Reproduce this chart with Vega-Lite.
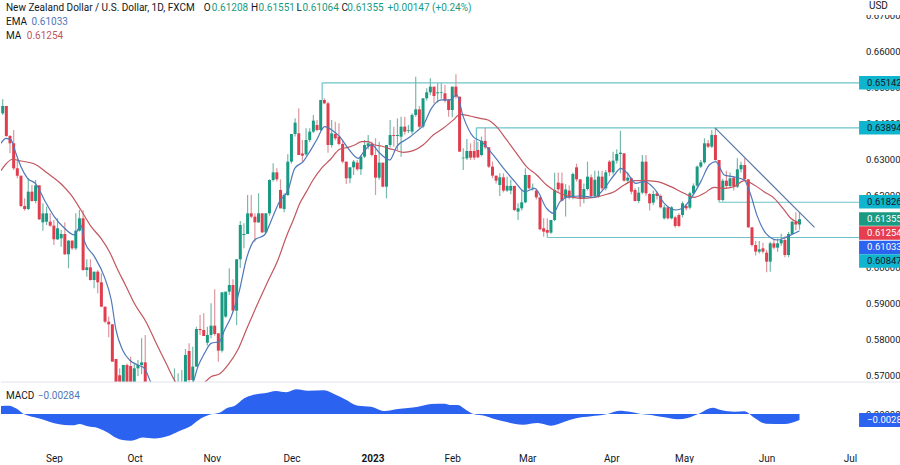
{
"$schema":"https://vega.github.io/schema/vega-lite/v6.json",
"background":"white",
"padding":0,
"spacing":0,
"bounds":"flush",
"datasets":{
"blank":[{}],
"candles":[
{"bar":0,"o":0.64296,"h":0.64685,"l":0.6425,"c":0.645},
{"bar":1,"o":0.645,"h":0.645,"l":0.63648,"c":0.63667},
{"bar":2,"o":0.63667,"h":0.63695,"l":0.63185,"c":0.63463},
{"bar":3,"o":0.63463,"h":0.63833,"l":0.62722,"c":0.62768},
{"bar":4,"o":0.62768,"h":0.63,"l":0.62491,"c":0.62565},
{"bar":5,"o":0.62565,"h":0.62565,"l":0.61685,"c":0.61722},
{"bar":6,"o":0.61722,"h":0.61935,"l":0.61592,"c":0.61639},
{"bar":7,"o":0.61639,"h":0.62491,"l":0.61611,"c":0.6212},
{"bar":8,"o":0.6212,"h":0.62305,"l":0.61842,"c":0.61861},
{"bar":9,"o":0.61861,"h":0.62444,"l":0.61796,"c":0.62296},
{"bar":10,"o":0.62296,"h":0.62296,"l":0.61333,"c":0.61352},
{"bar":11,"o":0.61268,"h":0.61796,"l":0.61037,"c":0.61518},
{"bar":12,"o":0.61287,"h":0.61704,"l":0.61194,"c":0.61518},
{"bar":13,"o":0.61287,"h":0.61518,"l":0.61148,"c":0.61176},
{"bar":14,"o":0.61176,"h":0.61333,"l":0.60639,"c":0.60796},
{"bar":15,"o":0.60796,"h":0.6138,"l":0.60778,"c":0.61102},
{"bar":16,"o":0.60824,"h":0.61055,"l":0.60593,"c":0.60944},
{"bar":17,"o":0.60944,"h":0.61268,"l":0.60361,"c":0.6038},
{"bar":18,"o":0.6038,"h":0.60778,"l":0.59991,"c":0.60759},
{"bar":19,"o":0.60759,"h":0.60778,"l":0.605,"c":0.60546},
{"bar":20,"o":0.60546,"h":0.61518,"l":0.605,"c":0.61037},
{"bar":21,"o":0.61037,"h":0.61611,"l":0.6101,"c":0.6138},
{"bar":22,"o":0.6138,"h":0.61611,"l":0.59926,"c":0.59944},
{"bar":23,"o":0.59944,"h":0.60241,"l":0.59759,"c":0.60018},
{"bar":24,"o":0.60018,"h":0.60241,"l":0.59648,"c":0.59666},
{"bar":25,"o":0.59666,"h":0.59898,"l":0.59435,"c":0.59898},
{"bar":26,"o":0.59898,"h":0.59944,"l":0.59296,"c":0.59602},
{"bar":27,"o":0.59602,"h":0.59852,"l":0.58907,"c":0.58926},
{"bar":28,"o":0.58926,"h":0.58926,"l":0.58463,"c":0.58509},
{"bar":29,"o":0.58509,"h":0.5865,"l":0.58074,"c":0.58435},
{"bar":30,"o":0.58435,"h":0.58435,"l":0.57398,"c":0.57398},
{"bar":31,"o":0.57472,"h":0.57472,"l":0.563,"c":0.565},
{"bar":32,"o":0.5702,"h":0.57213,"l":0.562,"c":0.564},
{"bar":33,"o":0.565,"h":0.57305,"l":0.563,"c":0.57305},
{"bar":34,"o":0.57305,"h":0.5735,"l":0.564,"c":0.5655},
{"bar":35,"o":0.57277,"h":0.57537,"l":0.565,"c":0.5679},
{"bar":36,"o":0.5679,"h":0.5735,"l":0.565,"c":0.57213},
{"bar":37,"o":0.57213,"h":0.57444,"l":0.57,"c":0.57305},
{"bar":38,"o":0.57305,"h":0.5805,"l":0.5705,"c":0.57379},
{"bar":39,"o":0.57379,"h":0.58142,"l":0.563,"c":0.565},
{"bar":47,"o":0.56,"h":0.57213,"l":0.557,"c":0.564},
{"bar":48,"o":0.562,"h":0.57074,"l":0.56,"c":0.566},
{"bar":49,"o":0.564,"h":0.57167,"l":0.562,"c":0.567},
{"bar":50,"o":0.5655,"h":0.5775,"l":0.563,"c":0.57583},
{"bar":51,"o":0.57694,"h":0.57907,"l":0.5665,"c":0.56888},
{"bar":52,"o":0.56888,"h":0.57815,"l":0.5665,"c":0.5726},
{"bar":53,"o":0.5726,"h":0.5837,"l":0.5726,"c":0.58305},
{"bar":54,"o":0.58305,"h":0.58694,"l":0.5814,"c":0.58275},
{"bar":55,"o":0.58278,"h":0.5874,"l":0.5811,"c":0.58111},
{"bar":56,"o":0.57925,"h":0.5837,"l":0.5785,"c":0.5814},
{"bar":57,"o":0.5814,"h":0.59018,"l":0.5805,"c":0.58398},
{"bar":58,"o":0.58398,"h":0.59407,"l":0.5812,"c":0.58167},
{"bar":59,"o":0.58185,"h":0.58185,"l":0.57398,"c":0.57704},
{"bar":60,"o":0.57704,"h":0.59324,"l":0.5765,"c":0.59324},
{"bar":61,"o":0.5865,"h":0.59342,"l":0.5862,"c":0.59342},
{"bar":62,"o":0.59342,"h":0.59991,"l":0.5925,"c":0.59528},
{"bar":63,"o":0.59528,"h":0.59685,"l":0.588,"c":0.58814},
{"bar":64,"o":0.58814,"h":0.60241,"l":0.58416,"c":0.60241},
{"bar":65,"o":0.60241,"h":0.61305,"l":0.6,"c":0.61194},
{"bar":66,"o":0.60916,"h":0.6124,"l":0.60546,"c":0.60944},
{"bar":67,"o":0.60944,"h":0.62028,"l":0.6094,"c":0.61518},
{"bar":68,"o":0.61518,"h":0.62028,"l":0.6138,"c":0.61426},
{"bar":69,"o":0.61426,"h":0.61518,"l":0.60731,"c":0.61268},
{"bar":70,"o":0.61268,"h":0.62074,"l":0.6125,"c":0.61518},
{"bar":71,"o":0.61518,"h":0.61518,"l":0.6097,"c":0.6099},
{"bar":72,"o":0.6099,"h":0.61518,"l":0.6095,"c":0.61518},
{"bar":73,"o":0.61518,"h":0.62463,"l":0.6145,"c":0.62444},
{"bar":74,"o":0.62444,"h":0.62907,"l":0.624,"c":0.62657},
{"bar":75,"o":0.62657,"h":0.62768,"l":0.624,"c":0.62463},
{"bar":76,"o":0.62167,"h":0.62463,"l":0.61657,"c":0.61657},
{"bar":77,"o":0.61639,"h":0.62074,"l":0.6155,"c":0.62028},
{"bar":78,"o":0.62028,"h":0.63157,"l":0.62,"c":0.62954},
{"bar":79,"o":0.62954,"h":0.63722,"l":0.629,"c":0.63722},
{"bar":80,"o":0.63722,"h":0.64157,"l":0.6365,"c":0.64037},
{"bar":81,"o":0.63741,"h":0.64435,"l":0.63139,"c":0.63139},
{"bar":82,"o":0.6318,"h":0.63556,"l":0.6295,"c":0.6312},
{"bar":83,"o":0.63157,"h":0.63879,"l":0.6312,"c":0.63556},
{"bar":84,"o":0.63556,"h":0.63879,"l":0.635,"c":0.63787},
{"bar":85,"o":0.63787,"h":0.6425,"l":0.6375,"c":0.64093},
{"bar":86,"o":0.63972,"h":0.64111,"l":0.638,"c":0.63833},
{"bar":87,"o":0.63833,"h":0.64667,"l":0.6381,"c":0.64667},
{"bar":88,"o":0.64667,"h":0.64713,"l":0.6455,"c":0.64574},
{"bar":89,"o":0.64574,"h":0.6462,"l":0.63204,"c":0.63417},
{"bar":90,"o":0.63417,"h":0.64111,"l":0.6335,"c":0.63741},
{"bar":91,"o":0.63722,"h":0.64065,"l":0.6355,"c":0.63602},
{"bar":92,"o":0.63648,"h":0.64019,"l":0.634,"c":0.63445},
{"bar":93,"o":0.63445,"h":0.63556,"l":0.62907,"c":0.62954},
{"bar":94,"o":0.62954,"h":0.62954,"l":0.62333,"c":0.62491},
{"bar":95,"o":0.62491,"h":0.62796,"l":0.62352,"c":0.62796},
{"bar":96,"o":0.62796,"h":0.63,"l":0.62583,"c":0.62954},
{"bar":97,"o":0.62926,"h":0.63,"l":0.627,"c":0.62741},
{"bar":98,"o":0.62741,"h":0.6314,"l":0.62583,"c":0.63093},
{"bar":99,"o":0.63093,"h":0.63556,"l":0.6305,"c":0.63417},
{"bar":100,"o":0.63389,"h":0.63695,"l":0.633,"c":0.63463},
{"bar":101,"o":0.63445,"h":0.63509,"l":0.631,"c":0.63139},
{"bar":102,"o":0.63139,"h":0.63602,"l":0.62028,"c":0.62509},
{"bar":103,"o":0.62509,"h":0.63509,"l":0.6245,"c":0.62926},
{"bar":104,"o":0.62926,"h":0.62926,"l":0.6224,"c":0.62259},
{"bar":105,"o":0.62259,"h":0.63417,"l":0.61935,"c":0.63417},
{"bar":106,"o":0.63417,"h":0.64111,"l":0.6335,"c":0.63694},
{"bar":107,"o":0.63694,"h":0.63926,"l":0.6337,"c":0.63667},
{"bar":108,"o":0.63667,"h":0.64157,"l":0.63278,"c":0.63694},
{"bar":109,"o":0.63648,"h":0.64204,"l":0.63093,"c":0.63926},
{"bar":110,"o":0.63926,"h":0.64204,"l":0.637,"c":0.63787},
{"bar":111,"o":0.63806,"h":0.63972,"l":0.6375,"c":0.63825},
{"bar":112,"o":0.63787,"h":0.643,"l":0.6372,"c":0.6425},
{"bar":113,"o":0.6425,"h":0.65315,"l":0.642,"c":0.64407},
{"bar":114,"o":0.64407,"h":0.645,"l":0.6388,"c":0.63926},
{"bar":115,"o":0.63926,"h":0.64713,"l":0.6388,"c":0.64713},
{"bar":116,"o":0.64713,"h":0.64991,"l":0.6465,"c":0.6488},
{"bar":117,"o":0.6488,"h":0.65269,"l":0.648,"c":0.65037},
{"bar":118,"o":0.65037,"h":0.65037,"l":0.64574,"c":0.64778},
{"bar":119,"o":0.64852,"h":0.6513,"l":0.646,"c":0.6488},
{"bar":120,"o":0.6487,"h":0.6513,"l":0.647,"c":0.64889},
{"bar":121,"o":0.64852,"h":0.65083,"l":0.646,"c":0.64648},
{"bar":122,"o":0.64667,"h":0.647,"l":0.64204,"c":0.64389},
{"bar":123,"o":0.64389,"h":0.65037,"l":0.64185,"c":0.65037},
{"bar":124,"o":0.65037,"h":0.6538,"l":0.647,"c":0.64759},
{"bar":125,"o":0.64759,"h":0.64759,"l":0.63231,"c":0.63231},
{"bar":126,"o":0.63046,"h":0.63324,"l":0.62722,"c":0.63065},
{"bar":127,"o":0.63046,"h":0.63583,"l":0.63,"c":0.6325},
{"bar":128,"o":0.6325,"h":0.63463,"l":0.63,"c":0.63065},
{"bar":129,"o":0.6325,"h":0.63556,"l":0.63,"c":0.63065},
{"bar":130,"o":0.63278,"h":0.635,"l":0.6305,"c":0.63074},
{"bar":131,"o":0.63139,"h":0.6365,"l":0.631,"c":0.6353},
{"bar":132,"o":0.6353,"h":0.63898,"l":0.633,"c":0.63352},
{"bar":133,"o":0.63352,"h":0.63352,"l":0.6278,"c":0.62815},
{"bar":134,"o":0.62815,"h":0.62954,"l":0.625,"c":0.62565},
{"bar":135,"o":0.62565,"h":0.62565,"l":0.6235,"c":0.62426},
{"bar":136,"o":0.62305,"h":0.6263,"l":0.62,"c":0.62518},
{"bar":137,"o":0.62518,"h":0.6263,"l":0.621,"c":0.6215},
{"bar":138,"o":0.6215,"h":0.62537,"l":0.6212,"c":0.6228},
{"bar":139,"o":0.6215,"h":0.6245,"l":0.6205,"c":0.6228},
{"bar":140,"o":0.6228,"h":0.6228,"l":0.6158,"c":0.61611},
{"bar":141,"o":0.61565,"h":0.61796,"l":0.61333,"c":0.61658},
{"bar":142,"o":0.61658,"h":0.6217,"l":0.616,"c":0.61824},
{"bar":143,"o":0.61824,"h":0.62768,"l":0.618,"c":0.62583},
{"bar":144,"o":0.62583,"h":0.62583,"l":0.6218,"c":0.62213},
{"bar":145,"o":0.62213,"h":0.6235,"l":0.6215,"c":0.62232},
{"bar":146,"o":0.6215,"h":0.6218,"l":0.619,"c":0.61963},
{"bar":147,"o":0.61963,"h":0.61963,"l":0.6105,"c":0.61074},
{"bar":148,"o":0.61102,"h":0.6138,"l":0.6087,"c":0.61009},
{"bar":149,"o":0.61055,"h":0.6138,"l":0.6095,"c":0.60981},
{"bar":150,"o":0.60981,"h":0.61333,"l":0.6095,"c":0.61333},
{"bar":151,"o":0.61333,"h":0.62648,"l":0.613,"c":0.62167},
{"bar":152,"o":0.6237,"h":0.6265,"l":0.621,"c":0.62185},
{"bar":153,"o":0.62352,"h":0.6265,"l":0.6185,"c":0.6187},
{"bar":154,"o":0.6195,"h":0.6233,"l":0.6143,"c":0.6218},
{"bar":155,"o":0.6215,"h":0.623,"l":0.619,"c":0.6195},
{"bar":156,"o":0.61963,"h":0.6265,"l":0.619,"c":0.62611},
{"bar":157,"o":0.62796,"h":0.629,"l":0.624,"c":0.62463},
{"bar":158,"o":0.62463,"h":0.62463,"l":0.61704,"c":0.61935},
{"bar":159,"o":0.61935,"h":0.6235,"l":0.618,"c":0.62194},
{"bar":160,"o":0.62194,"h":0.62954,"l":0.6215,"c":0.62537},
{"bar":161,"o":0.62518,"h":0.626,"l":0.6195,"c":0.62},
{"bar":162,"o":0.62,"h":0.627,"l":0.6195,"c":0.6245},
{"bar":163,"o":0.6198,"h":0.627,"l":0.6195,"c":0.6254},
{"bar":164,"o":0.62537,"h":0.627,"l":0.6215,"c":0.62213},
{"bar":165,"o":0.62213,"h":0.6272,"l":0.6215,"c":0.62657},
{"bar":166,"o":0.62954,"h":0.63,"l":0.6255,"c":0.62657},
{"bar":167,"o":0.62657,"h":0.63231,"l":0.626,"c":0.62981},
{"bar":168,"o":0.62981,"h":0.633,"l":0.629,"c":0.63167},
{"bar":169,"o":0.63167,"h":0.63815,"l":0.6263,"c":0.63204},
{"bar":170,"o":0.63185,"h":0.63185,"l":0.624,"c":0.62426},
{"bar":171,"o":0.62426,"h":0.6265,"l":0.6235,"c":0.62509},
{"bar":172,"o":0.62491,"h":0.6252,"l":0.6205,"c":0.62121},
{"bar":173,"o":0.62167,"h":0.6222,"l":0.6185,"c":0.61861},
{"bar":174,"o":0.61861,"h":0.6225,"l":0.618,"c":0.62093},
{"bar":175,"o":0.62093,"h":0.63139,"l":0.6205,"c":0.62954},
{"bar":176,"o":0.62954,"h":0.63139,"l":0.62,"c":0.62074},
{"bar":177,"o":0.62056,"h":0.6208,"l":0.616,"c":0.61796},
{"bar":178,"o":0.61815,"h":0.6215,"l":0.6175,"c":0.62056},
{"bar":179,"o":0.62074,"h":0.6212,"l":0.619,"c":0.62},
{"bar":180,"o":0.62,"h":0.6205,"l":0.6165,"c":0.61685},
{"bar":181,"o":0.6138,"h":0.6175,"l":0.6135,"c":0.61685},
{"bar":182,"o":0.61685,"h":0.6172,"l":0.6135,"c":0.6138},
{"bar":183,"o":0.6138,"h":0.6172,"l":0.6135,"c":0.61685},
{"bar":184,"o":0.61407,"h":0.6145,"l":0.6112,"c":0.61167},
{"bar":185,"o":0.61472,"h":0.6152,"l":0.6113,"c":0.61167},
{"bar":186,"o":0.61472,"h":0.6185,"l":0.614,"c":0.61796},
{"bar":187,"o":0.61722,"h":0.6178,"l":0.616,"c":0.61657},
{"bar":188,"o":0.61676,"h":0.6212,"l":0.6163,"c":0.62074},
{"bar":189,"o":0.62074,"h":0.6235,"l":0.6203,"c":0.62287},
{"bar":190,"o":0.62287,"h":0.6285,"l":0.6225,"c":0.62815},
{"bar":191,"o":0.62815,"h":0.63,"l":0.6278,"c":0.62935},
{"bar":192,"o":0.62935,"h":0.63602,"l":0.629,"c":0.63463},
{"bar":193,"o":0.63463,"h":0.63556,"l":0.6333,"c":0.6337},
{"bar":194,"o":0.6337,"h":0.63833,"l":0.6333,"c":0.63695},
{"bar":195,"o":0.63695,"h":0.63894,"l":0.6298,"c":0.63},
{"bar":196,"o":0.63,"h":0.63,"l":0.6187,"c":0.61889},
{"bar":197,"o":0.61889,"h":0.6248,"l":0.6185,"c":0.62426},
{"bar":198,"o":0.62426,"h":0.627,"l":0.622,"c":0.62278},
{"bar":199,"o":0.62278,"h":0.6265,"l":0.6222,"c":0.62491},
{"bar":200,"o":0.62509,"h":0.6255,"l":0.6215,"c":0.62278},
{"bar":201,"o":0.62259,"h":0.63046,"l":0.6222,"c":0.62741},
{"bar":202,"o":0.62741,"h":0.6295,"l":0.6265,"c":0.62861},
{"bar":203,"o":0.62861,"h":0.63046,"l":0.6244,"c":0.62463},
{"bar":204,"o":0.62463,"h":0.62463,"l":0.6112,"c":0.6113},
{"bar":205,"o":0.6113,"h":0.6113,"l":0.606,"c":0.60639},
{"bar":206,"o":0.60639,"h":0.6075,"l":0.6035,"c":0.60454},
{"bar":207,"o":0.60454,"h":0.6075,"l":0.604,"c":0.60518},
{"bar":208,"o":0.60546,"h":0.607,"l":0.604,"c":0.60454},
{"bar":209,"o":0.60426,"h":0.605,"l":0.59879,"c":0.60176},
{"bar":210,"o":0.60176,"h":0.60731,"l":0.59898,"c":0.60685},
{"bar":211,"o":0.60685,"h":0.608,"l":0.6052,"c":0.60565},
{"bar":212,"o":0.60565,"h":0.6082,"l":0.6045,"c":0.60685},
{"bar":213,"o":0.60685,"h":0.6095,"l":0.6062,"c":0.60778},
{"bar":214,"o":0.60778,"h":0.6088,"l":0.603,"c":0.60361},
{"bar":215,"o":0.60361,"h":0.61,"l":0.603,"c":0.60944},
{"bar":216,"o":0.60944,"h":0.6132,"l":0.6092,"c":0.61287},
{"bar":217,"o":0.61287,"h":0.61551,"l":0.6104,"c":0.61208},
{"bar":218,"o":0.61208,"h":0.61551,"l":0.61064,"c":0.61355}
],
"ma":[
{"bar":-0.46,"v":0.62704},{"bar":0.9,"v":0.62889},{"bar":2.7,"v":0.6302},{"bar":5,"v":0.62972},{"bar":8.7,"v":0.62889},{"bar":12.3,"v":0.6263},{"bar":16,"v":0.62333},{"bar":18.7,"v":0.62028},{"bar":21.4,"v":0.61611},{"bar":24.2,"v":0.61148},{"bar":26.9,"v":0.60824},{"bar":29.2,"v":0.60453},{"bar":31.5,"v":0.59944},{"bar":33.8,"v":0.59481},{"bar":36,"v":0.59018},{"bar":39.2,"v":0.58509},{"bar":42,"v":0.57907},{"bar":44.7,"v":0.57351},{"bar":47.4,"v":0.56814},{"bar":51.3,"v":0.564},{"bar":55.2,"v":0.56814},{"bar":57,"v":0.56981},{"bar":59.3,"v":0.57055},{"bar":61.6,"v":0.57305},{"bar":64.3,"v":0.57722},{"bar":67,"v":0.5837},{"bar":69.8,"v":0.59018},{"bar":72.5,"v":0.5962},{"bar":75.3,"v":0.60222},{"bar":77.6,"v":0.6087},{"bar":79.5,"v":0.61333},{"bar":81.3,"v":0.61796},{"bar":83.1,"v":0.6212},{"bar":84.9,"v":0.62444},{"bar":87.2,"v":0.62768},{"bar":89.5,"v":0.63},{"bar":92.2,"v":0.63296},{"bar":94.5,"v":0.63352},{"bar":96.3,"v":0.63417},{"bar":98.2,"v":0.63509},{"bar":100,"v":0.63509},{"bar":101.8,"v":0.63417},{"bar":103.6,"v":0.63389},{"bar":105.5,"v":0.63324},{"bar":107.3,"v":0.63278},{"bar":109.6,"v":0.63213},{"bar":112.3,"v":0.63259},{"bar":115,"v":0.63417},{"bar":117.8,"v":0.63694},{"bar":120.5,"v":0.6388},{"bar":123.3,"v":0.64111},{"bar":125.1,"v":0.64269},{"bar":127.8,"v":0.64222},{"bar":130.6,"v":0.64157},{"bar":132.8,"v":0.64111},{"bar":135.1,"v":0.63926},{"bar":137.9,"v":0.63556},{"bar":140.6,"v":0.63185},{"bar":143.3,"v":0.62815},{"bar":146.1,"v":0.62583},{"bar":148.8,"v":0.62305},{"bar":151.5,"v":0.6212},{"bar":153.8,"v":0.62028},{"bar":156.1,"v":0.61963},{"bar":158.2,"v":0.61935},{"bar":161.8,"v":0.61963},{"bar":164.6,"v":0.62028},{"bar":167.3,"v":0.6212},{"bar":170,"v":0.62306},{"bar":172.8,"v":0.62426},{"bar":175.5,"v":0.62426},{"bar":179.1,"v":0.62398},{"bar":182.8,"v":0.62259},{"bar":186.4,"v":0.62074},{"bar":189.2,"v":0.61963},{"bar":191.9,"v":0.62074},{"bar":194.7,"v":0.62241},{"bar":197.4,"v":0.62213},{"bar":200.1,"v":0.62259},{"bar":202.9,"v":0.62426},{"bar":205.6,"v":0.62306},{"bar":208.3,"v":0.6212},{"bar":211.1,"v":0.61935},{"bar":213.8,"v":0.61611},{"bar":215.6,"v":0.6138},{"bar":218,"v":0.61254}
],
"ema":[
{"bar":-0.5,"v":0.63463},{"bar":0.9,"v":0.63602},{"bar":2.3,"v":0.63556},{"bar":3.6,"v":0.63185},{"bar":5,"v":0.62815},{"bar":6.8,"v":0.62491},{"bar":9.1,"v":0.62333},{"bar":11.4,"v":0.61889},{"bar":14.1,"v":0.61426},{"bar":16.9,"v":0.61102},{"bar":19.6,"v":0.60917},{"bar":21.4,"v":0.61194},{"bar":22.4,"v":0.60731},{"bar":25.1,"v":0.60315},{"bar":27.8,"v":0.59759},{"bar":29.7,"v":0.59111},{"bar":31,"v":0.58278},{"bar":32.8,"v":0.57722},{"bar":34.7,"v":0.57444},{"bar":37,"v":0.57305},{"bar":38.8,"v":0.57213},{"bar":40.6,"v":0.56814},{"bar":46,"v":0.564},{"bar":52,"v":0.56814},{"bar":53.4,"v":0.5726},{"bar":55.2,"v":0.57629},{"bar":57,"v":0.57907},{"bar":59.3,"v":0.57953},{"bar":60.7,"v":0.58278},{"bar":62.5,"v":0.58648},{"bar":64.8,"v":0.59389},{"bar":66.6,"v":0.60222},{"bar":68.9,"v":0.60778},{"bar":71.6,"v":0.60917},{"bar":73.9,"v":0.61426},{"bar":75.7,"v":0.61842},{"bar":78.1,"v":0.62167},{"bar":79.9,"v":0.62768},{"bar":82.2,"v":0.62954},{"bar":84,"v":0.63232},{"bar":85.9,"v":0.63556},{"bar":88.1,"v":0.63926},{"bar":90.4,"v":0.63806},{"bar":92.2,"v":0.63648},{"bar":94.5,"v":0.63324},{"bar":97.3,"v":0.63046},{"bar":99.1,"v":0.63278},{"bar":100.9,"v":0.63417},{"bar":103.2,"v":0.63185},{"bar":105.9,"v":0.63},{"bar":107.8,"v":0.6337},{"bar":110.9,"v":0.63602},{"bar":113.2,"v":0.63787},{"bar":115.1,"v":0.63972},{"bar":117.3,"v":0.64435},{"bar":120.1,"v":0.64667},{"bar":122.4,"v":0.64667},{"bar":124.2,"v":0.64806},{"bar":126,"v":0.64204},{"bar":128.7,"v":0.63648},{"bar":131,"v":0.63509},{"bar":134.2,"v":0.63139},{"bar":137.4,"v":0.62722},{"bar":140.1,"v":0.62398},{"bar":142.9,"v":0.6212},{"bar":145.6,"v":0.62213},{"bar":148.8,"v":0.61657},{"bar":150.6,"v":0.61518},{"bar":152.5,"v":0.61842},{"bar":155.2,"v":0.61982},{"bar":158.2,"v":0.62},{"bar":161.8,"v":0.61963},{"bar":164.6,"v":0.62213},{"bar":167.3,"v":0.62583},{"bar":169.1,"v":0.62769},{"bar":170.9,"v":0.6263},{"bar":173.2,"v":0.62352},{"bar":175.5,"v":0.62398},{"bar":178.2,"v":0.62213},{"bar":181,"v":0.61796},{"bar":184.2,"v":0.61611},{"bar":186,"v":0.61657},{"bar":188.3,"v":0.61935},{"bar":191,"v":0.62398},{"bar":193.3,"v":0.62861},{"bar":195.1,"v":0.62954},{"bar":197.4,"v":0.62583},{"bar":199.7,"v":0.62537},{"bar":202.9,"v":0.62444},{"bar":204.5,"v":0.62074},{"bar":206.5,"v":0.61426},{"bar":208.8,"v":0.60963},{"bar":212,"v":0.60778},{"bar":214.7,"v":0.6087},{"bar":218,"v":0.61033}
],
"macd":[
{"bar":-0.5,"v":0.00382},{"bar":1.8,"v":0.00398},{"bar":3.6,"v":0.0027},{"bar":5.9,"v":-0.00016},{"bar":8.7,"v":-0.00159},{"bar":11.4,"v":-0.00286},{"bar":14.1,"v":-0.00445},{"bar":16.9,"v":-0.00525},{"bar":19.2,"v":-0.00541},{"bar":21,"v":-0.00477},{"bar":23.3,"v":-0.00588},{"bar":26,"v":-0.00668},{"bar":28.7,"v":-0.00875},{"bar":31,"v":-0.01129},{"bar":32.8,"v":-0.0124},{"bar":35.1,"v":-0.01272},{"bar":38.3,"v":-0.01113},{"bar":41.5,"v":-0.01161},{"bar":45.2,"v":-0.01049},{"bar":47.9,"v":-0.00843},{"bar":51.6,"v":-0.00557},{"bar":54.3,"v":-0.00207},{"bar":57,"v":-0.00016},{"bar":59.3,"v":0.00064},{"bar":61.6,"v":0.00302},{"bar":63.4,"v":0.00382},{"bar":66.1,"v":0.00747},{"bar":68.4,"v":0.00906},{"bar":71.6,"v":0.00986},{"bar":74.8,"v":0.01097},{"bar":77.6,"v":0.01034},{"bar":80.3,"v":0.01177},{"bar":83.5,"v":0.01113},{"bar":88,"v":0.01129},{"bar":90.8,"v":0.00938},{"bar":93.5,"v":0.00716},{"bar":97.2,"v":0.00398},{"bar":100.8,"v":0.0035},{"bar":104.5,"v":0.00143},{"bar":108.1,"v":0.00239},{"bar":113.6,"v":0.0035},{"bar":117.2,"v":0.00477},{"bar":120.9,"v":0.00493},{"bar":122.7,"v":0.00429},{"bar":124.5,"v":0.00429},{"bar":126.8,"v":0.00191},{"bar":129,"v":-0.00016},{"bar":131.8,"v":-0.0008},{"bar":134.5,"v":-0.00239},{"bar":138.2,"v":-0.00398},{"bar":142.3,"v":-0.00509},{"bar":146.4,"v":-0.00429},{"bar":150,"v":-0.00557},{"bar":153.7,"v":-0.00366},{"bar":156.9,"v":-0.00207},{"bar":161,"v":-0.00111},{"bar":165.1,"v":-0.00016},{"bar":168.7,"v":0.00159},{"bar":171.9,"v":0.00095},{"bar":174.2,"v":0.00016},{"bar":177.4,"v":-0.00048},{"bar":181,"v":-0.00159},{"bar":184.7,"v":-0.00254},{"bar":187.4,"v":-0.00191},{"bar":190.1,"v":-0.00016},{"bar":194.3,"v":0.00302},{"bar":196.5,"v":0.00191},{"bar":200.2,"v":0.00111},{"bar":202.9,"v":0.00127},{"bar":205.6,"v":-0.00175},{"bar":208.8,"v":-0.00461},{"bar":213.8,"v":-0.00477},{"bar":218,"v":-0.00284}
],
"levels":[
{"start":87.4,"level":0.65142,"anchor":0.64667},
{"start":129.6,"level":0.63894,"anchor":0.6325},
{"start":196,"level":0.61826,"anchor":0.6189},
{"start":149,"level":0.60847,"anchor":0.6098}
],
"trend":[{"bar":194.9,"v":0.63893},{"bar":222.1,"v":0.6113}],
"tags":[
{"label":"0.65142","slot":0.65142,"series":"level"},
{"label":"0.63894","slot":0.63894,"series":"level"},
{"label":"0.61826","slot":0.6184,"series":"level"},
{"label":"0.61355","slot":0.61361,"series":"close"},
{"label":"0.61254","slot":0.60972,"series":"ma"},
{"label":"0.61033","slot":0.60572,"series":"ema"},
{"label":"0.60847","slot":0.60194,"series":"level"}
]
},
"vconcat":[
{
"width":900,
"height":382,
"encoding":{
"x":{"type":"quantitative","scale":{"domain":[-0.465,245.77],"nice":false,"zero":false,"padding":0},"axis":null}
},
"layer":[
{"data":{"name":"levels"},"mark":{"type":"rule","color":"#6cc3c9","strokeWidth":1.2,"clip":true},
"encoding":{"x":{"field":"start","type":"quantitative"},"x2":{"datum":234.3},
"y":{"field":"level","type":"quantitative","scale":{"domain":[0.56833,0.67444],"nice":false,"zero":false},
"axis":{"orient":"right","title":null,"grid":false,"domain":false,"ticks":false,"tickCount":20,"values":[0.57,0.58,0.59,0.6,0.61,0.62,0.63,0.64,0.65,0.66,0.67],"format":".5f","labelAlign":"right","labelPadding":-1,"labelFont":"Roboto","labelFontSize":9.5,"labelColor":"#131722","labelOverlap":false,"labelBound":false,"labelFlush":false}}}},
{"data":{"name":"levels"},"mark":{"type":"rule","color":"#6cc3c9","strokeWidth":1.2,"clip":true},
"encoding":{"x":{"field":"start","type":"quantitative"},"y":{"field":"level","type":"quantitative"},"y2":{"field":"anchor"}}},
{"data":{"name":"candles"},"mark":{"type":"rule","strokeWidth":1.2,"clip":true},
"encoding":{"x":{"field":"bar","type":"quantitative"},"y":{"field":"l","type":"quantitative"},"y2":{"field":"h"},
"color":{"condition":{"test":"datum.c>=datum.o","value":"#76b9aa"},"value":"#dd979e"}}},
{"data":{"name":"candles"},"mark":{"type":"bar","size":3,"clip":true},
"encoding":{"x":{"field":"bar","type":"quantitative"},"y":{"field":"o","type":"quantitative"},"y2":{"field":"c"},
"color":{"condition":{"test":"datum.c>=datum.o","value":"#1a9a82"},"value":"#e03e4e"}}},
{"data":{"name":"ma"},"mark":{"type":"line","color":"#c2565f","strokeWidth":1.2,"clip":true,"interpolate":"monotone"},
"encoding":{"x":{"field":"bar","type":"quantitative"},"y":{"field":"v","type":"quantitative"}}},
{"data":{"name":"ema"},"mark":{"type":"line","color":"#4f78b8","strokeWidth":1.2,"clip":true,"interpolate":"monotone"},
"encoding":{"x":{"field":"bar","type":"quantitative"},"y":{"field":"v","type":"quantitative"}}},
{"data":{"name":"trend"},"mark":{"type":"line","color":"#5a78a8","strokeWidth":1.2,"clip":true},
"encoding":{"x":{"field":"bar","type":"quantitative"},"y":{"field":"v","type":"quantitative"}}},
{"data":{"name":"blank"},"mark":{"type":"rect","color":"white"},
"encoding":{"x":{"datum":234.3},"x2":{"datum":245.77},"y":{"datum":0.67444},"y2":{"datum":0.67027}}},
{"data":{"name":"tags"},"mark":{"type":"rule","size":13.5,"clip":true},
"encoding":{"x":{"datum":234.3},"x2":{"datum":245.77},"y":{"field":"slot","type":"quantitative"},
"color":{"field":"series","type":"nominal","legend":null,"scale":{"domain":["level","close","ma","ema"],"range":["#0fb5ce","#1a9a82","#e63e4e","#2c62f0"]}}}},
{"data":{"name":"tags"},"mark":{"type":"text","align":"left","baseline":"middle","font":"Roboto","fontSize":9.5},
"encoding":{"x":{"datum":236.5},"y":{"field":"slot","type":"quantitative"},"text":{"field":"label"},
"color":{"condition":{"test":"datum.series=='level'","value":"#131722"},"value":"white"}}},
{"data":{"name":"blank"},"mark":{"type":"text","align":"left","baseline":"middle","font":"Roboto","fontSize":10,"color":"#131722"},
"encoding":{"x":{"datum":237},"y":{"datum":0.67278},"text":{"value":"USD"}}},
{"data":{"name":"blank"},"mark":{"type":"text","align":"left","baseline":"middle","font":"Roboto","fontSize":10,"color":"#131722"},
"encoding":{"x":{"datum":0.9},"y":{"datum":0.67222},"text":{"value":"New Zealand Dollar / U.S. Dollar, 1D, FXCM"}}},
{"data":{"name":"blank"},"mark":{"type":"text","align":"left","baseline":"middle","font":"Roboto","fontSize":10,"color":"#131722"},
"encoding":{"x":{"datum":55},"y":{"datum":0.67222},"text":{"value":"O"}}},
{"data":{"name":"blank"},"mark":{"type":"text","align":"left","baseline":"middle","font":"Roboto","fontSize":10,"color":"#1a9a82"},
"encoding":{"x":{"datum":57.2},"y":{"datum":0.67222},"text":{"value":"0.61208"}}},
{"data":{"name":"blank"},"mark":{"type":"text","align":"left","baseline":"middle","font":"Roboto","fontSize":10,"color":"#131722"},
"encoding":{"x":{"datum":67.9},"y":{"datum":0.67222},"text":{"value":"H"}}},
{"data":{"name":"blank"},"mark":{"type":"text","align":"left","baseline":"middle","font":"Roboto","fontSize":10,"color":"#1a9a82"},
"encoding":{"x":{"datum":70},"y":{"datum":0.67222},"text":{"value":"0.61551"}}},
{"data":{"name":"blank"},"mark":{"type":"text","align":"left","baseline":"middle","font":"Roboto","fontSize":10,"color":"#131722"},
"encoding":{"x":{"datum":80.4},"y":{"datum":0.67222},"text":{"value":"L"}}},
{"data":{"name":"blank"},"mark":{"type":"text","align":"left","baseline":"middle","font":"Roboto","fontSize":10,"color":"#1a9a82"},
"encoding":{"x":{"datum":82},"y":{"datum":0.67222},"text":{"value":"0.61064"}}},
{"data":{"name":"blank"},"mark":{"type":"text","align":"left","baseline":"middle","font":"Roboto","fontSize":10,"color":"#131722"},
"encoding":{"x":{"datum":92.7},"y":{"datum":0.67222},"text":{"value":"C"}}},
{"data":{"name":"blank"},"mark":{"type":"text","align":"left","baseline":"middle","font":"Roboto","fontSize":10,"color":"#1a9a82"},
"encoding":{"x":{"datum":94.3},"y":{"datum":0.67222},"text":{"value":"0.61355"}}},
{"data":{"name":"blank"},"mark":{"type":"text","align":"left","baseline":"middle","font":"Roboto","fontSize":10,"color":"#1a9a82"},
"encoding":{"x":{"datum":105.3},"y":{"datum":0.67222},"text":{"value":"+0.00147 (+0.24%)"}}},
{"data":{"name":"blank"},"mark":{"type":"text","align":"left","baseline":"middle","font":"Roboto","fontSize":10,"color":"#131722"},
"encoding":{"x":{"datum":0.9},"y":{"datum":0.66833},"text":{"value":"EMA"}}},
{"data":{"name":"blank"},"mark":{"type":"text","align":"left","baseline":"middle","font":"Roboto","fontSize":10,"color":"#4f78b8"},
"encoding":{"x":{"datum":7.9},"y":{"datum":0.66833},"text":{"value":"0.61033"}}},
{"data":{"name":"blank"},"mark":{"type":"text","align":"left","baseline":"middle","font":"Roboto","fontSize":10,"color":"#131722"},
"encoding":{"x":{"datum":0.9},"y":{"datum":0.66444},"text":{"value":"MA"}}},
{"data":{"name":"blank"},"mark":{"type":"text","align":"left","baseline":"middle","font":"Roboto","fontSize":10,"color":"#c2565f"},
"encoding":{"x":{"datum":6.6},"y":{"datum":0.66444},"text":{"value":"0.61254"}}}
]
},
{
"width":900,
"height":60,
"encoding":{
"x":{"type":"quantitative","scale":{"domain":[-0.465,245.77],"nice":false,"zero":false,"padding":0},
"axis":{"title":null,"grid":false,"domain":false,"ticks":false,"values":[14,36.1,57.2,79,101.2,123,143.5,166.5,186.4,209,231.8],
"labelExpr":"{'14':'Sep','36.1':'Oct','57.2':'Nov','79':'Dec','101.2':'2023','123':'Feb','143.5':'Mar','166.5':'Apr','186.4':'May','209':'Jun','231.8':'Jul'}[datum.value]",
"labelFont":"Roboto","labelFontSize":10,"labelColor":"#131722","labelPadding":11,"labelOverlap":false,"labelFlush":false,
"labelFontWeight":{"condition":{"test":"datum.value==101.2","value":"bold"},"value":"normal"}}}
},
"layer":[
{"data":{"name":"macd"},"mark":{"type":"area","color":"#2c62f0","clip":true,"interpolate":"monotone"},
"encoding":{"x":{"field":"bar","type":"quantitative"},
"y":{"field":"v","type":"quantitative","scale":{"domain":[-0.01333,0.01524],"nice":false,"zero":false},
"axis":{"orient":"right","title":null,"grid":false,"domain":false,"ticks":false,"values":[0],"format":".5f","labelAlign":"right","labelPadding":-1,"labelFont":"Roboto","labelFontSize":9.5,"labelColor":"#131722"}},
"y2":{"datum":0}}},
{"data":{"name":"blank"},"mark":{"type":"rule","color":"#e0e3eb","strokeWidth":1},
"encoding":{"x":{"datum":-0.465},"x2":{"datum":245.77},"y":{"datum":0.01524}}},
{"data":{"name":"blank"},"mark":{"type":"rule","color":"#2c62f0","size":14,"clip":true},
"encoding":{"x":{"datum":234.3},"x2":{"datum":245.77},"y":{"datum":-0.00284}}},
{"data":{"name":"blank"},"mark":{"type":"text","align":"left","baseline":"middle","font":"Roboto","fontSize":9.5,"color":"white","clip":true},
"encoding":{"x":{"datum":236.5},"y":{"datum":-0.00284},"text":{"value":"−0.00284"}}},
{"data":{"name":"blank"},"mark":{"type":"text","align":"left","baseline":"middle","font":"Roboto","fontSize":10,"color":"#131722"},
"encoding":{"x":{"datum":0.9},"y":{"datum":0.00857},"text":{"value":"MACD"}}},
{"data":{"name":"blank"},"mark":{"type":"text","align":"left","baseline":"middle","font":"Roboto","fontSize":10,"color":"#4f78b8"},
"encoding":{"x":{"datum":9.6},"y":{"datum":0.00857},"text":{"value":"−0.00284"}}}
]
}
],
"config":{"view":{"stroke":null},"axis":{"grid":false}}
}
